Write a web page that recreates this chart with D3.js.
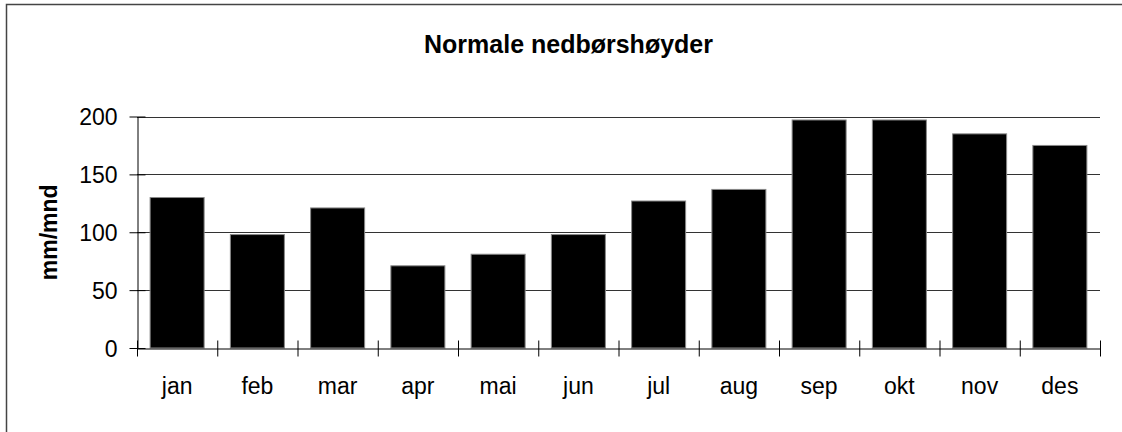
<!DOCTYPE html>
<html>
<head>
<meta charset="utf-8">
<script src="https://cdn.jsdelivr.net/npm/d3@7"></script>
<style>
  html, body { margin: 0; background: #fff; overflow: hidden; }
  svg { display: block; }
  text { font-family: "Liberation Sans", Arial, sans-serif; fill: #000; }
</style>
</head>
<body>
<script>
// monthly normal precipitation, mm/mnd
var months = ["jan", "feb", "mar", "apr", "mai", "jun", "jul", "aug", "sep", "okt", "nov", "des"];
var precip = [130, 98, 121, 71, 81, 98, 127, 137, 197, 197, 185, 175];
var yTicks = [0, 50, 100, 150, 200];

var W = 1122, H = 432;
var plot = { left: 137, right: 1100, top: 116.5, bottom: 348 };

var svg = d3.select("body").append("svg")
    .attr("width", W)
    .attr("height", H);

// outer frame: only the top and left edges fall inside the picture
svg.append("path")
    .attr("d", "M6.5," + H + "V4.5H" + W)
    .attr("fill", "none")
    .attr("stroke", "#444")
    .attr("stroke-width", 1.5);

var x = d3.scaleBand()
    .domain(months)
    .range([plot.left, plot.right])
    .paddingInner(0.327)
    .paddingOuter(0.1635);

// linear scale for the category boundary ticks
var xEdge = d3.scaleLinear().domain([0, months.length]).range([plot.left, plot.right]);

var y = d3.scaleLinear().domain([0, 200]).range([plot.bottom, plot.top]);

// gridlines
svg.append("g")
  .selectAll("line")
  .data(yTicks.filter(function(d) { return d > 0; }))
  .join("line")
    .attr("x1", plot.left).attr("x2", plot.right)
    .attr("y1", function(d) { return Math.round(y(d)) + 0.5; })
    .attr("y2", function(d) { return Math.round(y(d)) + 0.5; })
    .attr("stroke", "#333")
    .attr("stroke-width", 1);

// bars
svg.append("g")
  .selectAll("rect")
  .data(precip)
  .join("rect")
    .attr("x", function(d, i) { return x(months[i]); })
    .attr("y", function(d) { return y(d); })
    .attr("width", x.bandwidth())
    .attr("height", function(d) { return y(0) - y(d); })
    .attr("fill", "#000")
    .attr("stroke", "#888")
    .attr("stroke-width", 1);

// y axis
var gY = svg.append("g")
    .attr("transform", "translate(" + (plot.left + 0.5) + ",0)")
    .call(d3.axisLeft(y).tickValues(yTicks).tickSize(8).tickSizeOuter(0).tickPadding(12));
gY.select(".domain").attr("stroke", "#000");
gY.selectAll(".tick line").attr("x1", -8).attr("x2", 8).attr("stroke", "#000");
gY.selectAll(".tick text")
    .style("font-size", "23px")
    .attr("dy", "0.36em");

// x axis: ticks on category boundaries
var gX = svg.append("g")
    .attr("transform", "translate(0," + (plot.bottom + 0.5) + ")")
    .call(d3.axisBottom(xEdge).tickValues(d3.range(months.length + 1)).tickFormat("").tickSize(8).tickSizeOuter(0));
gX.select(".domain").attr("stroke", "#000");
gX.selectAll(".tick line").attr("y1", -8).attr("y2", 8).attr("stroke", "#000");

// x labels at band centres
var gXL = svg.append("g")
    .attr("transform", "translate(0," + (plot.bottom + 0.5) + ")")
    .call(d3.axisBottom(x).tickSize(0).tickPadding(0));
gXL.select(".domain").remove();
gXL.selectAll(".tick text")
    .attr("y", 45)
    .attr("dy", 0)
    .style("font-size", "23px");

// title
svg.append("text")
    .attr("x", 568.5)
    .attr("y", 53)
    .attr("text-anchor", "middle")
    .style("font-size", "25px")
    .style("font-weight", "bold")
    .text("Normale nedbørshøyder");

// y axis title
svg.append("text")
    .attr("transform", "translate(57," + ((plot.top + plot.bottom) / 2) + ") rotate(-90)")
    .attr("text-anchor", "middle")
    .style("font-size", "23px")
    .style("font-weight", "bold")
    .text("mm/mnd");
</script>
</body>
</html>
